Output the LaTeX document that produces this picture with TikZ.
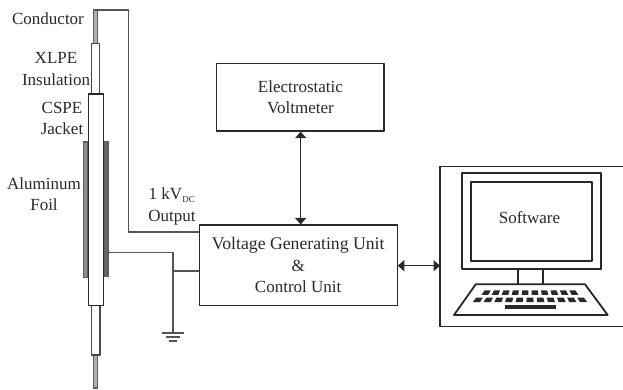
\documentclass[tikz,border=0pt]{standalone}
\usepackage{fontspec}
\setmainfont{Liberation Serif}
\usetikzlibrary{arrows.meta}
\definecolor{ink}{gray}{0.16}
\definecolor{foil}{gray}{0.55}
\tikzset{
  x=1pt,y=-1pt,
  wire/.style={draw=ink!80!white,line width=1.3pt,line join=round},
  heavy/.style={draw=ink!95!black,line width=1.8pt,line join=round},
  box/.style={draw=ink,line width=1.2pt,line join=round},
  lbl/.style={font=\fontsize{17}{21.5}\selectfont,text=ink,align=center,inner sep=0pt},
  dbl/.style={draw=ink,line width=1.3pt,{Triangle[length=6.5pt,width=11pt]}-{Triangle[length=6.5pt,width=11pt]}},
  cable/.style={draw=ink,line width=1.4pt,fill=white,line join=round},
  thincable/.style={draw=ink!85!white,line width=1.1pt,fill=white,line join=round},
  core/.style={draw=ink!75!white,line width=1.1pt,fill=foil!70!white},
  foilbar/.style={draw=ink!75!white,line width=1.1pt,fill=foil},
  key/.style={fill=ink,draw=none}
}
\begin{document}
\begin{tikzpicture}
\useasboundingbox (0,0) rectangle (623,389);
\fill[white] (0,0) rectangle (623,389);
% corner and end coordinates of connectors
\coordinate (wtop) at (95.5,10);
\coordinate (wcorner) at (128.5,10);
\coordinate (wlow) at (128.5,232);
\coordinate (gfoil) at (108,252.3);
\coordinate (gcorner) at (173,252.3);
\coordinate (gtap) at (173,271);
\coordinate (gnd) at (173,333);
% cable
\draw[core] (93.7,10) rectangle (97.3,44);
\draw[core] (93.7,355) rectangle (97.3,388);
\draw[thincable] (91.5,43.5) rectangle (99.5,94);
\draw[thincable] (91.7,305.5) rectangle (100,355);
\draw[foilbar] (83.5,142) rectangle (87.3,277.5);
\draw[foilbar,fill=ink!70!white] (104.3,141.5) rectangle (108,276.5);
\draw[cable] (88.7,94) rectangle (103.3,305.5);
% boxes
\node[box,minimum width=167.3pt,minimum height=67.7pt,lbl,draw=ink,anchor=center] (ev) at (300.4,97.2) {Electrostatic\\Voltmeter};
\node[box,minimum width=198pt,minimum height=80.7pt,lbl,draw=ink,anchor=center] (vgu) at (298.2,265.4) {{\fontsize{17.7}{21.5}\selectfont Voltage Generating Unit}\\\&\\Control Unit};
\draw[heavy,line width=1.5pt] (623.5,166.7) -- (440,166.7) -- (440,326.7) -- (623.5,326.7);
\coordinate (swl) at (440,265.7);
% connectors
\draw[wire] (wtop) -- (wcorner) -- (wlow) -- (wlow -| vgu.west);
\draw[wire] (gfoil) -- (gcorner) -- (gnd);
\draw[wire] (gtap) -- (gtap -| vgu.west);
\draw[wire] (162,333) -- (184,333);
\draw[wire] (166,337) -- (180,337);
\draw[wire] (169,341) -- (177,341);
\draw[dbl] (ev.south -| 300.7,0) -- (vgu.north -| 300.7,0);
\draw[dbl] (swl -| vgu.east) -- (swl);
% computer
\draw[heavy] (461.7,172.7) rectangle (601,269.3);
\draw[heavy] (470.7,182.3) rectangle (592.3,260.7);
\draw[heavy] (518.3,269.3) -- (518.3,284.3);
\draw[heavy] (542.7,269.3) -- (542.7,284.3);
\draw[heavy] (475.7,284.3) -- (585,284.3) -- (607.7,315) -- (454,315) -- cycle;
\foreach \i in {-4.5,-3.5,...,4.5}{
  \fill[key] ({530+\i*9.4-3},290.3) -- ({530+\i*9.4+3},290.3) -- ({530+\i*10+3.3},294.8) -- ({530+\i*10-3.3},294.8) -- cycle;
}
\foreach \i in {-5,...,5}{
  \fill[key] ({530+\i*10.1-3.3},297.6) -- ({530+\i*10.1+3.3},297.6) -- ({530+\i*10.7+3.6},302) -- ({530+\i*10.7-3.6},302) -- cycle;
}
\fill[key] (505,305) rectangle (555.7,309);
% labels
\node[lbl] (soft) at (529.5,218) {Software};
\node[lbl] (lcond) at (48,19) {Conductor};
\node[lbl] (lxlpe) at (56,69) {XLPE\\Insulation};
\node[lbl] (lcspe) at (62,118.5) {CSPE\\Jacket};
\node[lbl] (lalu) at (44,194) {Aluminum\\Foil};
\node[lbl] (lout) at (172,206.5) {1 kV\textsubscript{\fontsize{9}{9}\selectfont DC}\\Output};
\end{tikzpicture}
\end{document}
